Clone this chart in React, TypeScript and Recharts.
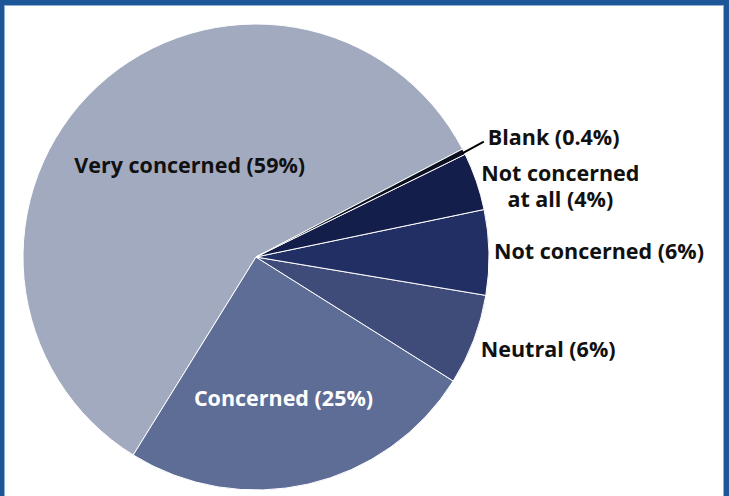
import { PieChart, Pie, Cell } from "recharts"

const categories = ["Very concerned", "Concerned", "Neutral", "Not concerned", "Not concerned at all", "Blank"]
const values = [58.5, 24.9, 6.3, 5.9, 4.0, 0.4]
const labelLines = [
  ["Very concerned (59%)"],
  ["Concerned (25%)"],
  ["Neutral (6%)"],
  ["Not concerned (6%)"],
  ["Not concerned", "at all (4%)"],
  ["Blank (0.4%)"],
]
const colors = ["#a2aac0", "#5e6d96", "#3f4c7a", "#222f64", "#141e4b", "#0b0f20"]

const data = categories.map((name, i) => ({ name, value: values[i] }))

const RAD = Math.PI / 180
const FONT = "'Open Sans', 'Noto Sans', sans-serif"

// per-slice label placement: radius factor (0 = on the rim) and nudges
const place = [
  { inside: 0.5, dx: 13, dy: -8, anchor: "middle", fill: "#111111" },
  { inside: 0.6, dx: -4, dy: 4, anchor: "middle", fill: "#ffffff" },
  { inside: 0, dx: 7, dy: 8, anchor: "start", fill: "#111111" },
  { inside: 0, dx: 5, dy: -2, anchor: "start", fill: "#111111" },
  { inside: 0, dx: 84, dy: 4, anchor: "middle", fill: "#111111" },
  { inside: 0, dx: 24, dy: -16, anchor: "start", fill: "#111111" },
]

function renderLabel(props: any) {
  const { cx, cy, midAngle, outerRadius, index } = props
  const p = place[index]
  const r = p.inside ? outerRadius * p.inside : outerRadius
  const bx = cx + r * Math.cos(-midAngle * RAD)
  const by = cy + r * Math.sin(-midAngle * RAD)
  const x = bx + p.dx
  const y = by + p.dy
  const lines = labelLines[index]
  const lh = 26
  const y0 = y - ((lines.length - 1) * lh) / 2
  return (
    <g key={`lbl-${index}`}>
      {index === 5 && (
        <line x1={bx - 2} y1={by + 2} x2={x - 4} y2={y + 6} stroke="#000000" strokeWidth={2} />
      )}
      <text
        x={x}
        y={y0}
        textAnchor={p.anchor as any}
        dominantBaseline="central"
        fill={p.fill}
        fontFamily={FONT}
        fontWeight={700}
        fontSize={21.5}
      >
        {lines.map((t, k) => (
          <tspan key={k} x={x} y={y0 + k * lh} dominantBaseline="central">
            {t}
          </tspan>
        ))}
      </text>
    </g>
  )
}

export default function App() {
  return (
    <div
      style={{
        position: "fixed",
        top: 0,
        left: 0,
        width: 729,
        height: 496,
        background: "#ffffff",
        boxSizing: "border-box",
        borderTop: "5px solid #1d5797",
        borderLeft: "4px solid #1d5797",
        borderRight: "5px solid #1d5797",
        overflow: "hidden",
      }}
    >
      <div
        style={{
          position: "absolute",
          top: 0,
          left: 0,
          width: 720,
          height: 491,
          boxSizing: "border-box",
          borderLeft: "1px solid #8fb0d4",
          borderTop: "1px solid #8fb0d4",
          borderRight: "1px solid #8fb0d4",
        }}
      />
      <div style={{ position: "absolute", top: -5, left: -4 }}>
        <PieChart width={729} height={496} margin={{ top: 0, right: 0, bottom: 0, left: 0 }}>
          <Pie
            data={data}
            dataKey="value"
            nameKey="name"
            cx={256}
            cy={257}
            outerRadius={233}
            startAngle={27.6}
            endAngle={387.6}
            stroke="#ffffff"
            strokeWidth={1}
            label={renderLabel}
            labelLine={false}
            isAnimationActive={false}
          >
            {data.map((d, i) => (
              <Cell key={d.name} fill={colors[i]} />
            ))}
          </Pie>
        </PieChart>
      </div>
    </div>
  )
}
